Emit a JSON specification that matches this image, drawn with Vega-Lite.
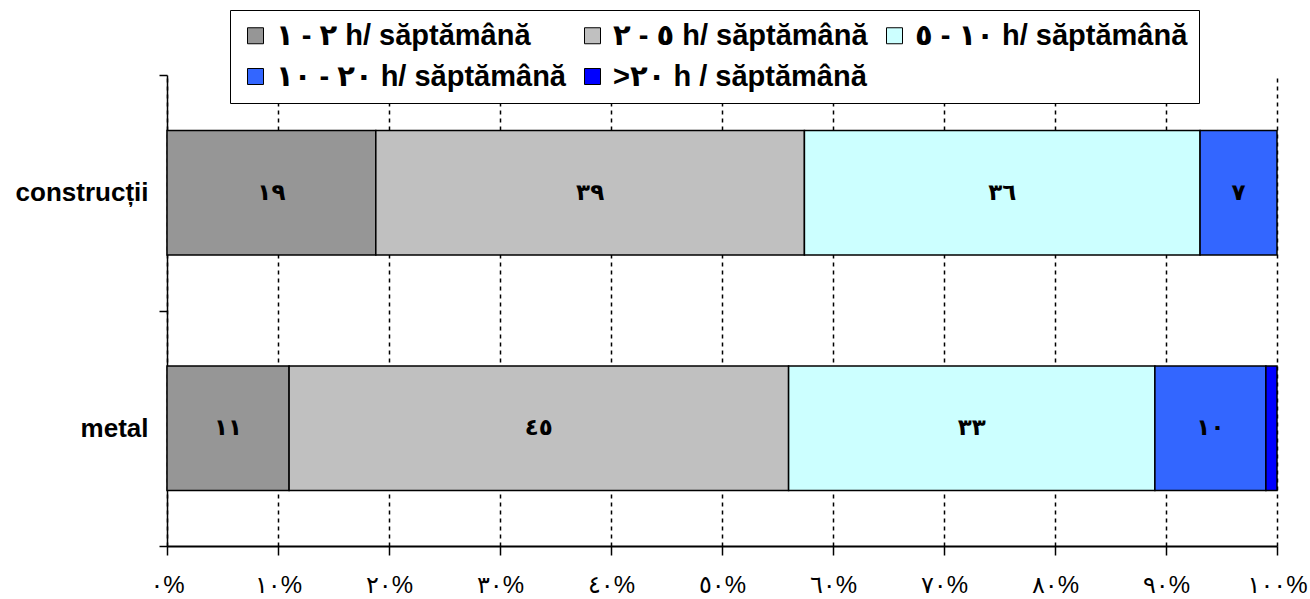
{
  "$schema": "https://vega.github.io/schema/vega-lite/v6.json",
  "autosize": {"type": "none"},
  "padding": {"left": 167, "top": 75, "right": 33, "bottom": 53},
  "width": 1110,
  "height": 471,
  "background": "white",
  "config": {
    "view": {"stroke": null},
    "font": "Liberation Sans, Arial, DejaVu Sans"
  },
  "data": {
    "values": [
      {"sector": "construcții", "group": "١\u200E - \u200E٢ h/ săptămână", "o": 1, "value": 19, "label": "١٩"},
      {"sector": "construcții", "group": "٢\u200E - \u200E٥ h/ săptămână", "o": 2, "value": 39, "label": "٣٩"},
      {"sector": "construcții", "group": "٥\u200E - \u200E١٠ h/ săptămână", "o": 3, "value": 36, "label": "٣٦"},
      {"sector": "construcții", "group": "١٠\u200E - \u200E٢٠ h/ săptămână", "o": 4, "value": 7, "label": "٧"},
      {"sector": "metal", "group": "١\u200E - \u200E٢ h/ săptămână", "o": 1, "value": 11, "label": "١١"},
      {"sector": "metal", "group": "٢\u200E - \u200E٥ h/ săptămână", "o": 2, "value": 45, "label": "٤٥"},
      {"sector": "metal", "group": "٥\u200E - \u200E١٠ h/ săptămână", "o": 3, "value": 33, "label": "٣٣"},
      {"sector": "metal", "group": "١٠\u200E - \u200E٢٠ h/ săptămână", "o": 4, "value": 10, "label": "١٠"},
      {"sector": "metal", "group": ">٢٠ h / săptămână", "o": 5, "value": 1, "label": ""}
    ]
  },
  "encoding": {
    "y": {
      "field": "sector",
      "type": "nominal",
      "sort": ["construcții", "metal"],
      "scale": {"paddingInner": 0, "paddingOuter": 0},
      "axis": {
        "title": null,
        "domainColor": "black",
        "domainWidth": 1.5,
        "tickColor": "black",
        "tickWidth": 1.5,
        "tickSize": 8,
        "tickBand": "extent",
        "labelFontSize": 26,
        "labelFontWeight": "bold",
        "labelColor": "black",
        "labelPadding": 11,
        "grid": false
      }
    }
  },
  "layer": [
    {
      "mark": {"type": "bar", "stroke": "black", "strokeWidth": 1.5, "height": {"band": 0.528}},
      "encoding": {
        "x": {
          "field": "value",
          "type": "quantitative",
          "stack": "normalize",
          "scale": {"domain": [0, 1], "nice": false},
          "axis": {
            "title": null,
            "values": [0, 0.1, 0.2, 0.3, 0.4, 0.5, 0.6, 0.7, 0.8, 0.9, 1],
            "labelExpr": "['٠%','١٠%','٢٠%','٣٠%','٤٠%','٥٠%','٦٠%','٧٠%','٨٠%','٩٠%','١٠٠%'][round(datum.value*10)]",
            "domainColor": "black",
            "domainWidth": 2,
            "tickColor": "black",
            "tickWidth": 1.5,
            "tickSize": 9,
            "labelFontSize": 24,
            "labelColor": "black",
            "labelPadding": 30,
            "labelBaseline": "middle",
            "labelFlush": false,
            "grid": true,
            "gridColor": "black",
            "gridDash": [4, 4],
            "gridWidth": 1.5
          }
        },
        "color": {
          "field": "group",
          "type": "nominal",
          "scale": {
            "domain": ["١\u200E - \u200E٢ h/ săptămână", "٢\u200E - \u200E٥ h/ săptămână", "٥\u200E - \u200E١٠ h/ săptămână", "١٠\u200E - \u200E٢٠ h/ săptămână", ">٢٠ h / săptămână"],
            "range": ["#969696", "#C0C0C0", "#CCFFFF", "#3366FF", "#0000FF"]
          },
          "legend": {
            "title": null,
            "orient": "none",
            "legendX": 63,
            "legendY": -65,
            "direction": "horizontal",
            "columns": 3,
            "padding": 11,
            "fillColor": "white",
            "strokeColor": "black",
            "symbolType": "square",
            "symbolSize": 256,
            "symbolStrokeColor": "black",
            "symbolStrokeWidth": 1,
            "symbolOpacity": 1,
            "labelFontSize": 29,
            "labelFontWeight": "bold",
            "labelColor": "black",
            "labelLimit": 500,
            "labelOffset": 6,
            "columnPadding": 12,
            "rowPadding": 11
          }
        },
        "order": {"field": "o", "type": "quantitative"}
      }
    },
    {
      "mark": {"type": "text", "fontSize": 23, "fontWeight": "bold", "color": "black", "baseline": "middle", "align": "center"},
      "encoding": {
        "x": {"field": "value", "type": "quantitative", "stack": "normalize", "bandPosition": 0.5},
        "text": {"field": "label"},
        "order": {"field": "o", "type": "quantitative"}
      }
    }
  ]
}
